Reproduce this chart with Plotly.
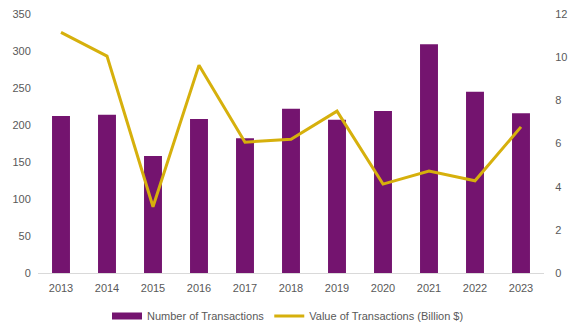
import plotly.graph_objects as go

years = ["2013", "2014", "2015", "2016", "2017", "2018", "2019", "2020", "2021", "2022", "2023"]
num_transactions = [212, 214, 158, 208, 182, 222, 207, 219, 309, 245, 216]
value_transactions = [11.15, 10.05, 3.07, 9.63, 6.06, 6.2, 7.5, 4.12, 4.72, 4.27, 6.77]

purple = "#74146F"
gold = "#D6B00C"
font_color = "#595959"
font_family = "Liberation Sans, Arial, sans-serif"
clear = "rgba(0,0,0,0)"

fig = go.Figure()
fig.add_trace(go.Bar(
    x=years, y=num_transactions, name="Number of Transactions",
    marker=dict(color=purple, line=dict(width=0)), yaxis="y",
    showlegend=False,
))
# wide flat swatch for the bar series in the legend
fig.add_trace(go.Scatter(
    x=[None], y=[None], name="Number of Transactions",
    mode="lines", line=dict(color=purple, width=7), yaxis="y",
))
fig.add_trace(go.Scatter(
    x=years, y=value_transactions, name="Value of Transactions (Billion $)",
    mode="lines", line=dict(color=gold, width=3), yaxis="y2",
))

fig.update_layout(
    width=576, height=336,
    margin=dict(l=38, r=32, t=14, b=63, autoexpand=False),
    paper_bgcolor="white", plot_bgcolor="white",
    font=dict(family=font_family, size=11, color=font_color),
    bargap=0.61,
    showlegend=True,
    legend=dict(orientation="h", x=0.5, xanchor="center", xref="container",
                y=20 / 336, yanchor="middle", yref="container",
                font=dict(size=11, color=font_color), itemwidth=30,
                traceorder="normal"),
    xaxis=dict(showgrid=False, showline=True, linecolor="#D9D9D9", linewidth=1,
               ticks="outside", ticklen=5, tickcolor=clear,
               tickfont=dict(size=11, color=font_color)),
    yaxis=dict(range=[0, 350], dtick=50, showgrid=False, zeroline=False,
               ticks="outside", ticklen=4, tickcolor=clear,
               tickfont=dict(size=11, color=font_color)),
    yaxis2=dict(range=[0, 12], dtick=2, overlaying="y", side="right",
                showgrid=False, zeroline=False,
                ticks="outside", ticklen=8, tickcolor=clear,
                tickfont=dict(size=11, color=font_color)),
)

fig.write_html("out.html")
